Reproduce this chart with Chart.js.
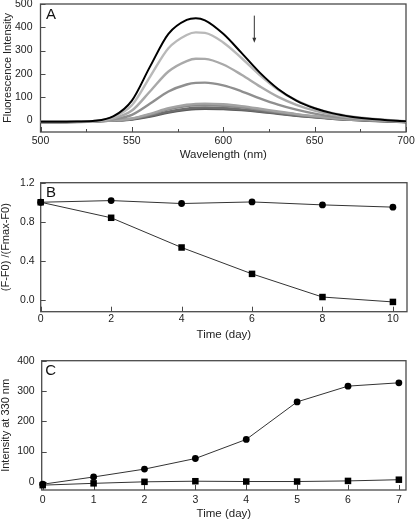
<!DOCTYPE html>
<html>
<head>
<meta charset="utf-8">
<script src="https://cdn.jsdelivr.net/npm/chart.js@4/dist/chart.umd.min.js"></script>
<style>
html, body { margin: 0; padding: 0; background: #fff; }
#wrap { position: relative; width: 415px; height: 523px; }
.panel { position: absolute; left: 0; width: 415px; }
</style>
</head>
<body>
<div id="wrap">
  <div class="panel" style="top:0;height:165px"><canvas id="chartA"></canvas></div>
  <div class="panel" style="top:170px;height:175px"><canvas id="chartB"></canvas></div>
  <div class="panel" style="top:345px;height:178px"><canvas id="chartC"></canvas></div>
</div>
<script>
// ---------- Panel A: emission spectra ----------
const wavelengths = [500, 510, 520, 530, 540, 550, 560, 570, 580, 585, 590, 600, 610, 620, 630, 640, 650, 660, 670, 680, 690, 700];
const spec0 = [-6, -6, -5, -2, 18, 85, 232, 372, 432, 439, 430, 372, 290, 205, 135, 85, 52, 30, 16, 7, 1, -4];
const spec1 = [-6, -6, -5, -3, 15, 65, 188, 310, 367, 378, 376, 335, 268, 195, 132, 86, 53, 31, 17, 8, 2, -4];
const spec2 = [-6, -6, -5, -3, 9, 42, 125, 210, 255, 265, 264, 240, 196, 146, 101, 67, 42, 24, 12, 5, 0, -5];
const spec3 = [-6, -6, -5, -3, 5, 24, 72, 124, 154, 161, 162, 150, 125, 95, 68, 46, 29, 16, 8, 3, -1, -5];
const spec4 = [-6, -6, -5, -4, 0, 8, 28, 52, 67, 71, 72, 69, 61, 50, 38, 27, 18, 10, 4, 1, -2, -5];
const spec5 = [-7, -7, -6, -4, 0, 7, 25, 47, 61, 65, 66, 63, 56, 46, 35, 25, 16, 9, 4, 0, -3, -6];
const spec6 = [-7, -7, -6, -5, -1, 5, 19, 37, 50, 54, 55, 53, 47, 39, 30, 21, 14, 7, 2, -1, -4, -7];
const spec7 = [-8, -8, -7, -5, -1, 4, 16, 33, 45, 49, 50, 49, 44, 37, 28, 20, 13, 7, 2, -2, -5, -8];
const spectra = [spec0, spec1, spec2, spec3, spec4, spec5, spec6, spec7];
const specColors = ['#000000', '#b9b9b9', '#a9a9a9', '#8f8f8f', '#a3a3a3', '#8a8a8a', '#6e6e6e', '#5a5a5a'];
const aTicksX = [500, 550, 600, 650, 700];
const aMinorX = [525, 575, 625, 675];
const aTicksY = [0, 100, 200, 300, 400, 500];

// ---------- Panel B: normalised fluorescence vs time ----------
const bDays = [0, 2, 4, 6, 8, 10];
const bCircles = [1.0, 1.017, 0.987, 1.003, 0.973, 0.95];
const bSquares = [1.0, 0.841, 0.537, 0.267, 0.03, -0.02];
const bTicksX = [0, 2, 4, 6, 8, 10];
const bTicksY = [0, 0.4, 0.8, 1.2];

// ---------- Panel C: intensity at 330 nm vs time ----------
const cDays = [0, 1, 2, 3, 4, 5, 6, 7];
const cCircles = [-8, 16, 42, 77, 140, 264, 316, 327];
const cSquares = [-11, -5, 0, 2, 1, 1, 3, 7];
const cTicksX = [0, 1, 2, 3, 4, 5, 6, 7];
const cTicksY = [0, 100, 200, 300, 400];

const FONT = "'Liberation Sans', Arial, sans-serif";

// frame, inward ticks, panel letter, arrow
const framePlugin = {
    id: 'frame',
    beforeDatasetsDraw(chart, args, opts) {
        const { ctx, chartArea: a, scales } = chart;
        ctx.save();
        ctx.strokeStyle = '#4a4a4a';
        ctx.lineWidth = 1.3;
        ctx.strokeRect(a.left, a.top, a.right - a.left, a.bottom - a.top);
        ctx.beginPath();
        ctx.lineWidth = 1;
        scales.x.ticks.forEach(t => {
            const px = Math.round(scales.x.getPixelForValue(t.value)) + 0.5;
            ctx.moveTo(px, a.bottom);
            ctx.lineTo(px, a.bottom - 5);
        });
        (opts.minorX || []).forEach(v => {
            const px = Math.round(scales.x.getPixelForValue(v)) + 0.5;
            ctx.moveTo(px, a.bottom);
            ctx.lineTo(px, a.bottom - 3);
        });
        scales.y.ticks.forEach(t => {
            const py = Math.round(scales.y.getPixelForValue(t.value)) + 0.5;
            ctx.moveTo(a.left, py);
            ctx.lineTo(a.left + 5, py);
        });
        ctx.stroke();

        ctx.fillStyle = '#111';
        ctx.font = '15px ' + FONT;
        ctx.textBaseline = 'alphabetic';
        ctx.fillText(opts.letter, a.left + opts.letterDx, a.top + opts.letterDy);

        if (opts.arrow) {
            const ar = opts.arrow;
            const x = scales.x.getPixelForValue(ar.x);
            const y1 = scales.y.getPixelForValue(ar.from);
            const y2 = scales.y.getPixelForValue(ar.to);
            ctx.strokeStyle = '#333';
            ctx.fillStyle = '#333';
            ctx.beginPath();
            ctx.moveTo(x, y1);
            ctx.lineTo(x, y2 - 4);
            ctx.stroke();
            ctx.beginPath();
            ctx.moveTo(x - 2, y2 - 5);
            ctx.lineTo(x + 2, y2 - 5);
            ctx.lineTo(x, y2);
            ctx.closePath();
            ctx.fill();
        }
        ctx.restore();
    }
};

function makeOptions(cfg) {
    return {
        responsive: true,
        maintainAspectRatio: false,
        animation: false,
        layout: { padding: { top: cfg.padTop, right: cfg.padRight, left: 0, bottom: 0 } },
        plugins: {
            legend: { display: false },
            tooltip: { enabled: false },
            frame: cfg.frame
        },
        scales: {
            x: {
                type: 'linear',
                min: cfg.xMin,
                max: cfg.xMax,
                afterBuildTicks: s => { s.ticks = cfg.xTicks.map(v => ({ value: v })); },
                afterFit: s => { s.height = cfg.xHeight; s.paddingLeft = 0; s.paddingRight = 0; },
                grid: { display: false, drawTicks: false },
                border: { display: false },
                ticks: {
                    padding: cfg.xTickPad,
                    color: '#222',
                    font: { family: FONT, size: 10.5 },
                    maxRotation: 0,
                    autoSkip: false
                },
                title: {
                    display: true,
                    text: cfg.xTitle,
                    color: '#222',
                    font: { family: FONT, size: 11.5, lineHeight: 1.2 },
                    padding: { top: 0, bottom: cfg.xTitlePad }
                }
            },
            y: {
                type: 'linear',
                min: cfg.yMin,
                max: cfg.yMax,
                afterBuildTicks: s => { s.ticks = cfg.yTicks.map(v => ({ value: v })); },
                afterFit: s => { s.width = cfg.yWidth; s.paddingTop = 0; s.paddingBottom = 0; },
                grid: { display: false, drawTicks: false },
                border: { display: false },
                ticks: {
                    padding: cfg.yTickPad,
                    color: '#222',
                    font: { family: FONT, size: 10.5 },
                    callback: cfg.yFmt || (v => String(v))
                },
                title: {
                    display: true,
                    text: cfg.yTitle,
                    color: '#222',
                    font: { family: FONT, size: 11, lineHeight: 1 },
                    padding: { top: cfg.yTitlePad, bottom: 0 }
                }
            }
        }
    };
}

// ---------- Chart A ----------
new Chart(document.getElementById('chartA'), {
    type: 'line',
    data: {
        datasets: spectra.map((vals, i) => ({
            data: wavelengths.map((w, j) => ({ x: w, y: vals[j] })),
            borderColor: specColors[i],
            borderWidth: i === 0 ? 2 : 2.4,
            pointRadius: 0,
            cubicInterpolationMode: 'monotone',
            fill: false
        }))
    },
    options: makeOptions({
        padTop: 4, padRight: 9,
        xMin: 500, xMax: 700, xTicks: aTicksX, xHeight: 33, xTickPad: 3,
        xTitle: 'Wavelength (nm)', xTitlePad: 3.4,
        yMin: -50, yMax: 500, yTicks: aTicksY, yWidth: 40.5, yTickPad: 8,
        yTitle: 'Fluorescence Intensity', yTitlePad: 2,
        frame: { letter: 'A', letterDx: 5.5, letterDy: 15.3, minorX: aMinorX, arrow: { x: 617, from: 450, to: 333 } }
    }),
    plugins: [framePlugin]
});

function markerSets(xs, squares, circles) {
    return [
        {
            data: xs.map((x, i) => ({ x: x, y: squares[i] })),
            borderColor: '#333', borderWidth: 1,
            pointStyle: 'rect', pointRadius: 4.6,
            pointBackgroundColor: '#000', pointBorderColor: '#000', pointBorderWidth: 0,
            tension: 0, clip: false
        },
        {
            data: xs.map((x, i) => ({ x: x, y: circles[i] })),
            borderColor: '#333', borderWidth: 1,
            pointStyle: 'circle', pointRadius: 3.4,
            pointBackgroundColor: '#000', pointBorderColor: '#000', pointBorderWidth: 0,
            tension: 0, clip: false
        }
    ];
}

// ---------- Chart B ----------
new Chart(document.getElementById('chartB'), {
    type: 'line',
    data: { datasets: markerSets(bDays, bSquares, bCircles) },
    options: makeOptions({
        padTop: 12.7, padRight: 8,
        xMin: 0, xMax: 10.4, xTicks: bTicksX, xHeight: 33.3, xTickPad: 1,
        xTitle: 'Time (day)', xTitlePad: 2.9,
        yMin: -0.12, yMax: 1.2, yTicks: bTicksY, yWidth: 40.7, yTickPad: 6,
        yTitle: '(F-F0) /(Fmax-F0)', yTitlePad: 0,
        yFmt: v => v.toFixed(1),
        frame: { letter: 'B', letterDx: 5.3, letterDy: 14 }
    }),
    plugins: [framePlugin]
});

// ---------- Chart C ----------
new Chart(document.getElementById('chartC'), {
    type: 'line',
    data: { datasets: markerSets(cDays, cSquares, cCircles) },
    options: makeOptions({
        padTop: 15.7, padRight: 9,
        xMin: -0.02, xMax: 7.14, xTicks: cTicksX, xHeight: 33, xTickPad: 4,
        xTitle: 'Time (day)', xTitlePad: 2.4,
        yMin: -27, yMax: 400, yTicks: cTicksY, yWidth: 41.7, yTickPad: 7,
        yTitle: 'Intensity at 330 nm', yTitlePad: 0.7,
        frame: { letter: 'C', letterDx: 3.5, letterDy: 14.3 }
    }),
    plugins: [framePlugin]
});
</script>
</body>
</html>
